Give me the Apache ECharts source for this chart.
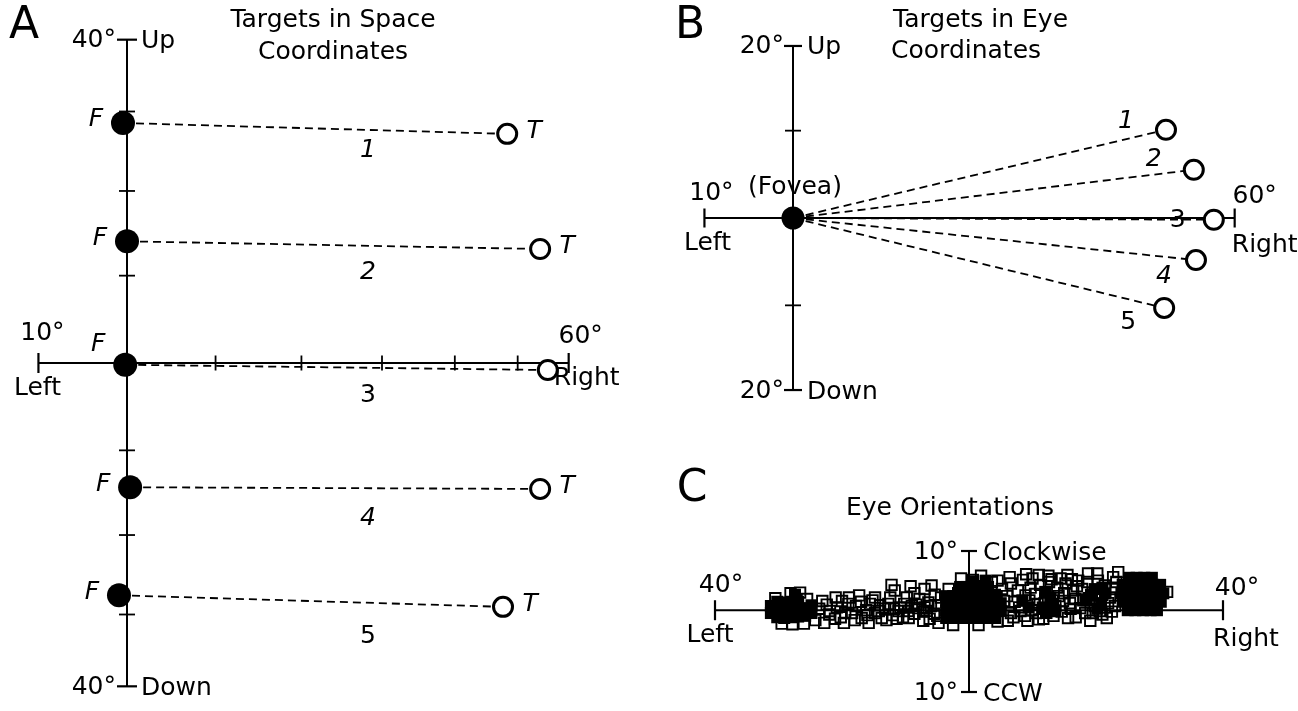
<!DOCTYPE html>
<html>
<head>
<meta charset="utf-8">
<script src="https://cdn.jsdelivr.net/npm/echarts@6/dist/echarts.min.js"></script>
<style>
  html, body { margin: 0; padding: 0; background: #fff; }
  #chart { width: 1298px; height: 711px; }
</style>
</head>
<body>
<div id="chart"></div>
<script>
// ---------- Panel A: targets in space coordinates (degrees: horizontal, vertical) ----------
const targetIds   = ['1', '2', '3', '4', '5'];
const idItalic    = [true, true, false, true, false];
const spaceFixH   = [-0.45, 0.0, -0.2, 0.35, -0.9];
const spaceFixV   = [28.5, 14.0, -0.2, -14.3, -27.5];
const spaceTgtH   = [48.2, 54.1, 55.6, 54.1, 47.5];
const spaceTgtV   = [27.1, 13.1, -0.8, -14.5, -29.0];
const spaceHRange = [-10, 60];          // Left .. Right
const spaceVRange = [-40, 40];          // Down .. Up
const spaceHTicks = [10, 20, 30, 40, 50];
const spaceVTicks = [-30, -20, -10, 10, 20, 30];

// ---------- Panel B: the same targets relative to the fovea ----------
const foveaPos    = [0, 0];
const eyeTgtH     = [47.0, 51.8, 55.6, 52.2, 46.7];
const eyeTgtV     = [10.1, 5.5, -0.2, -4.8, -10.3];
const eyeHRange   = [-10, 60];
const eyeVRange   = [-20, 20];
const eyeVTicks   = [-10, 10];

// ---------- Panel C: eye orientations (horizontal deg, torsion deg) ----------
const orientHRange = [-40, 40];         // Left .. Right
const orientTRange = [-10, 10];         // CCW .. Clockwise
const orientLevel  = 1.6;               // torsion level of the horizontal reference line
// sparse samples (outlined squares)
const orientSparse = [
  [-28.1,4.0],[-26.6,4.1],[-23.1,2.9],[-22.8,-0.2],[-20,2.9],[-19.7,-0.2],[-17.3,3.7],[-16.9,0.5],
  [-15.8,-0.2],[-14.8,3.4],[-14.2,1.5],[-13.75,0.5],[-12.7,2.5],[-11.7,4.4],[-11.4,0.4],[-10.2,2.5],
  [-9.5,0.5],[-8.6,4.0],[-8.0,1.9],[-7.2,0.1],[-6.4,2.7],[-5.9,5.1],[-5.5,1.1],[-4.4,3.4],
  [-21.9,1.5],[-18.4,1.2],[-21.1,0.4],[-23.6,1.8],[-18.9,3.4],[-15.6,2.5],[-8.6,1.1],[-11.1,1.5],
  [-6.7,1.5],[-4.8,-0.2],[-22,1],[-20.8,2],[-19.5,1.2],[-17.8,2.2],[-16.2,1.6],[-14.8,1.2],
  [-13.2,1.8],[-12,0.9],[-10.8,2],[-9.6,1.5],[-8.3,2.4],[-7.2,1.4],[-6,2.2],[-5,0.8],
  [-22.4,2.4],[-21,3.4],[-20.2,0.6],[-19,2.5],[-18,0.2],[-17,2.8],[-16,0.9],[-15.2,3],
  [-14,2.3],[-13,0.2],[-12.4,3.4],[-11.8,1.8],[-10.4,0.6],[-9.8,3.4],[-9,2.2],[-7.8,3.2],
  [-7,2],[-6.2,0.4],[-5.4,3.8],[-4.9,2.3],[-12.2,5.2],[-9.2,5.0],[-7.0,4.6],
  [-30.5,3.3],[-29.5,-0.3],[-27.8,-0.4],[-25.5,3.2],[-24.2,0.2],[-26,-0.3],
  [-1.25,6.1],[1.9,6.5],[-1.7,4.0],[-3.2,4.6],[0.6,5.9],[3.6,5.6],[4.5,0.0],[-2.5,-0.5],[1.5,-0.5],
  [4.5,5.8],[5.5,2.9],[6.1,0.1],[7.7,4.4],[8.1,1.5],[9.2,0.1],[9.7,4.8],[10.8,2.5],[11.7,0.4],
  [12.5,6.5],[13.3,0.8],[13.9,4.8],[14.8,2.9],[15.6,0.5],[16.4,4.4],[17.5,1.9],[18.75,6.8],
  [19.1,0.1],[19.8,4.0],[20.6,1.5],[21.7,0.5],[22.7,6.3],[22.2,3.4],
  [6.6,5.4],[8.9,3.7],[10.5,1.2],[12,3.2],[13.6,2.2],[15.2,5.4],[16.7,3.2],[18.3,1.2],
  [19.8,2.2],[21.4,5.1],[23,2.2],[6.6,1.2],[10,6.1],[14.4,6.1],[17.2,5.8],[20.3,5.8],
  [7.2,2.8],[9.5,3.0],[11.2,5.2],[12.9,1.5],[14.1,3.6],[16,1.8],[17.8,4.6],[18.9,3.3],
  [21,3.8],[22.5,1.4],[8.5,5.9],[15.5,6.6],[20.2,6.8],[31.2,4.2],[23.5,7.0],
  [5.2,4.6],[6.0,3.6],[7.0,0.6],[7.9,2.0],[8.8,0.8],[9.9,1.6],[10.4,3.9],[11.0,0.3],
  [11.9,2.6],[12.6,5.6],[13.2,3.0],[14.6,1.4],[15.0,4.0],[15.9,2.6],[16.8,0.6],[17.0,5.0],
  [18.0,3.0],[18.6,5.6],[19.5,1.2],[20.0,3.2],[21.0,1.0],[21.9,2.6],[22.6,4.6],[23.2,5.6],
  [16.2,6.0],[13.0,6.0],[11.0,6.6],[9.0,6.7],[6.4,6.3]
];
// densely overlapping samples (squares merge into solid ink)
const orientDense = [
  [-31.2,1.2],[-31.2,2.2],[-30.2,0.6],[-30.2,1.7],[-30.2,2.8],[-29.1,0.5],[-29.1,1.6],[-29.1,2.7],
  [-28,0.6],[-28,1.7],[-28,2.8],[-26.9,0.7],[-26.9,1.8],[-26.9,2.8],[-25.8,0.8],[-25.8,1.9],
  [-24.8,1.2],[-24.8,2.3],[-27.4,3.8],
  [-3.6,0.5],[-3.6,1.6],[-3.6,2.7],[-3.6,3.6],[-2.5,0.5],[-2.5,1.6],[-2.5,2.7],[-2.5,3.6],
  [-1.4,0.5],[-1.4,1.6],[-1.4,2.7],[-1.4,3.8],[-1.4,4.9],
  [-0.3,0.5],[-0.3,1.6],[-0.3,2.7],[-0.3,3.8],[-0.3,4.9],
  [0.8,0.5],[0.8,1.6],[0.8,2.7],[0.8,3.8],[0.8,4.9],[0.5,5.7],
  [1.9,0.5],[1.9,1.6],[1.9,2.7],[1.9,3.8],[1.9,4.9],[2.6,5.8],
  [3.0,0.5],[3.0,1.6],[3.0,2.7],[3.0,3.8],[3.0,4.9],
  [4.1,0.5],[4.1,1.6],[4.1,2.7],[4.1,3.8],[5.0,1.5],[5.0,2.6],
  [11.6,2],[12.8,3.4],[13.6,1.6],[12,4.2],[18.5,3],[19.8,4.6],[20.8,2.6],[21.5,4],[8.4,3],[9.4,2],
  [13,2.5],[12.2,1.2],[19.2,3.8],[20.2,1.8],[21,4.8],
  [25,1.6],[26.2,1.6],[27.4,1.6],[28.6,1.6],[29.6,1.6],
  [24.2,2.8],[25.4,2.8],[26.6,2.8],[27.8,2.8],[29,2.8],[30.2,2.8],
  [24,4.0],[25.2,4.0],[26.4,4.0],[27.6,4.0],[28.8,4.0],[30,4.0],[30.6,4.0],
  [24.2,5.2],[25.4,5.2],[26.6,5.2],[27.8,5.2],[29,5.2],[30.1,5.2],
  [25.2,6.2],[26.4,6.2],[27.6,6.2],[28.8,6.2]
];

// ---------- drawing ----------
const FONT = '"DejaVu Sans", sans-serif';
const INK = '#000';
const RAD = Math.PI / 180;
// directions are drawn in orthographic projection (sine of the angle)
const sp = d => Math.sin(d * RAD);

const chart = echarts.init(document.getElementById('chart'));

const series = [];
function segment(gi, a, b, dashed, width) {
  series.push({
    type: 'line', xAxisIndex: gi, yAxisIndex: gi, data: [a, b],
    symbol: 'none', silent: true, z: dashed ? 2 : 1, clip: false,
    lineStyle: { color: INK, opacity: 1, width: width || 2, type: dashed ? [8, 5] : 'solid' }
  });
}
function ticks(gi, pts, size) {
  series.push({
    type: 'scatter', xAxisIndex: gi, yAxisIndex: gi, data: pts, clip: false,
    symbol: 'rect', symbolSize: size, silent: true, z: 1,
    itemStyle: { color: INK, opacity: 1 }
  });
}
function dots(gi, pts, size, hollow) {
  series.push({
    type: 'scatter', xAxisIndex: gi, yAxisIndex: gi, data: pts, clip: false,
    symbol: 'circle', symbolSize: size, silent: true, z: 4,
    itemStyle: hollow
      ? { color: '#fff', borderColor: INK, borderWidth: 3, opacity: 1 }
      : { color: INK, opacity: 1 }
  });
}

// Panel A axes
segment(0, [0, sp(spaceVRange[1])], [0, sp(spaceVRange[0])]);
segment(0, [sp(spaceHRange[0]), 0], [sp(spaceHRange[1]), 0]);
ticks(0, spaceHTicks.map(d => [sp(d), 0]), [1.8, 15]);
ticks(0, spaceVTicks.map(d => [0, sp(d)]), [16, 1.8]);
ticks(0, spaceVRange.map(d => [0, sp(d)]), [20, 2.2]);
ticks(0, spaceHRange.map(d => [sp(d), 0]), [2.2, 20]);
const spaceFix = spaceFixH.map((h, i) => [sp(h), sp(spaceFixV[i])]);
const spaceTgt = spaceTgtH.map((h, i) => [sp(h), sp(spaceTgtV[i])]);
spaceFix.forEach((f, i) => segment(0, f, spaceTgt[i], true, 1.8));
dots(0, spaceFix, 24, false);
dots(0, spaceTgt, 19, true);

// Panel B axes
segment(1, [0, sp(eyeVRange[1])], [0, sp(eyeVRange[0])]);
segment(1, [sp(eyeHRange[0]), 0], [sp(eyeHRange[1]), 0]);
ticks(1, eyeVTicks.map(d => [0, sp(d)]), [16, 1.8]);
ticks(1, eyeVRange.map(d => [0, sp(d)]), [18, 2.2]);
ticks(1, eyeHRange.map(d => [sp(d), 0]), [2.2, 19]);
const eyeTgt = eyeTgtH.map((h, i) => [sp(h), sp(eyeTgtV[i])]);
eyeTgt.forEach(t => segment(1, foveaPos, t, true, 1.8));
dots(1, [foveaPos], 23, false);
dots(1, eyeTgt, 19, true);

// Panel C axes and samples
segment(2, [0, orientTRange[1]], [0, orientTRange[0]]);
segment(2, [orientHRange[0], orientLevel], [orientHRange[1], orientLevel]);
ticks(2, orientTRange.map(t => [0, t]), [16, 2.2]);
ticks(2, orientHRange.map(h => [h, orientLevel]), [2.2, 20]);
series.push({
  type: 'scatter', xAxisIndex: 2, yAxisIndex: 2, data: orientSparse, clip: false,
  symbol: 'rect', symbolSize: 10.5, silent: true, z: 3,
  itemStyle: { color: 'rgba(0,0,0,0)', borderColor: INK, borderWidth: 1.9, opacity: 1 }
});
series.push({
  type: 'scatter', xAxisIndex: 2, yAxisIndex: 2, data: orientDense, clip: false,
  symbol: 'rect', symbolSize: 12, silent: true, z: 3,
  itemStyle: { color: INK, opacity: 1 }
});

const RX = 510, RY = 503;        // projection radius in pixels
const CX = 6.35, CY = 7.05;      // panel C pixels per degree
const hidden = { show: false };
chart.setOption({
  animation: false,
  backgroundColor: '#fff',
  grid: [
    { left: 127 - 0.2 * RX, width: 1.1 * RX, top: 363 - 0.68 * RY, height: 1.36 * RY },
    { left: 793 - 0.2 * RX, width: 1.1 * RX, top: 218 - 0.4 * RY, height: 0.8 * RY },
    { left: 969 - 45 * CX, width: 90 * CX, top: 621.5 - 12 * CY, height: 24 * CY }
  ],
  xAxis: [
    { type: 'value', gridIndex: 0, min: -0.2, max: 0.9, ...hidden },
    { type: 'value', gridIndex: 1, min: -0.2, max: 0.9, ...hidden },
    { type: 'value', gridIndex: 2, min: -45, max: 45, ...hidden }
  ],
  yAxis: [
    { type: 'value', gridIndex: 0, min: -0.68, max: 0.68, ...hidden },
    { type: 'value', gridIndex: 1, min: -0.4, max: 0.4, ...hidden },
    { type: 'value', gridIndex: 2, min: -12, max: 12, ...hidden }
  ],
  series
});

// ---------- text ----------
const px = (gi, p) => chart.convertToPixel({ gridIndex: gi }, p);
function txt(x, y, text, o) {
  o = o || {};
  return {
    type: 'text', x, y, silent: true, z: 10,
    style: {
      text, fill: INK, fontFamily: FONT, fontSize: o.size || 25,
      fontStyle: o.italic ? 'italic' : 'normal', fontWeight: 'normal',
      align: o.align || 'center', verticalAlign: 'middle'
    }
  };
}
const g = [];
// panel letters and titles
g.push(txt(24, 27, 'A', { size: 44 }));
g.push(txt(690, 27, 'B', { size: 44 }));
g.push(txt(692, 490, 'C', { size: 44 }));
g.push(txt(333, 20, 'Targets in Space'));
g.push(txt(333, 52, 'Coordinates'));
g.push(txt(893, 20, 'Targets in Eye', { align: 'left' }));
g.push(txt(891, 51, 'Coordinates', { align: 'left' }));
g.push(txt(950, 508, 'Eye Orientations'));

// Panel A axis labels
let p = px(0, [0, sp(spaceVRange[1])]);
g.push(txt(p[0] - 11, p[1] + 1, spaceVRange[1] + '°', { align: 'right' }));
g.push(txt(p[0] + 14, p[1] + 2, 'Up', { align: 'left' }));
p = px(0, [0, sp(spaceVRange[0])]);
g.push(txt(p[0] - 11, p[1] + 1, Math.abs(spaceVRange[0]) + '°', { align: 'right' }));
g.push(txt(p[0] + 14, p[1] + 2, 'Down', { align: 'left' }));
p = px(0, [sp(spaceHRange[0]), 0]);
g.push(txt(p[0] + 4, p[1] - 30, Math.abs(spaceHRange[0]) + '°'));
g.push(txt(p[0] - 1, p[1] + 25, 'Left'));
p = px(0, [sp(spaceHRange[1]), 0]);
g.push(txt(p[0] + 12, p[1] - 27, spaceHRange[1] + '°'));
g.push(txt(p[0] + 18, p[1] + 15, 'Right'));
// F / T markers and target numbers
const aNumY = [150, 272, 395, 518, 636];
spaceFix.forEach((f, i) => {
  const q = px(0, f);
  const up = i === 2 ? 20 : 3;
  g.push(txt(q[0] - 27, q[1] - up, 'F', { italic: true }));
});
spaceTgt.forEach((t, i) => {
  if (i === 2) return;
  const q = px(0, t);
  g.push(txt(q[0] + 27, q[1] - 2, 'T', { italic: true }));
});
targetIds.forEach((id, i) => g.push(txt(368, aNumY[i], id, { italic: idItalic[i] })));

// Panel B axis labels
p = px(1, [0, sp(eyeVRange[1])]);
g.push(txt(p[0] - 9, p[1] + 1, eyeVRange[1] + '°', { align: 'right' }));
g.push(txt(p[0] + 14, p[1] + 2, 'Up', { align: 'left' }));
p = px(1, [0, sp(eyeVRange[0])]);
g.push(txt(p[0] - 9, p[1] + 1, Math.abs(eyeVRange[0]) + '°', { align: 'right' }));
g.push(txt(p[0] + 14, p[1] + 2, 'Down', { align: 'left' }));
p = px(1, [sp(eyeHRange[0]), 0]);
g.push(txt(p[0] + 7, p[1] - 25, Math.abs(eyeHRange[0]) + '°'));
g.push(txt(p[0] + 3, p[1] + 25, 'Left'));
p = px(1, [sp(eyeHRange[1]), 0]);
g.push(txt(p[0] + 20, p[1] - 22, eyeHRange[1] + '°'));
g.push(txt(p[0] + 30, p[1] + 27, 'Right'));
p = px(1, foveaPos);
g.push(txt(p[0] + 2, p[1] - 31, '(Fovea)'));
const bNumOff = [[-40, -8], [-40, -10], [-36, 1], [-32, 16], [-36, 15]];
eyeTgt.forEach((t, i) => {
  const q = px(1, t);
  g.push(txt(q[0] + bNumOff[i][0], q[1] + bNumOff[i][1], targetIds[i], { italic: idItalic[i] }));
});

// Panel C axis labels
p = px(2, [0, orientTRange[1]]);
g.push(txt(p[0] - 11, p[1] + 1, orientTRange[1] + '°', { align: 'right' }));
g.push(txt(p[0] + 14, p[1] + 2, 'Clockwise', { align: 'left' }));
p = px(2, [0, orientTRange[0]]);
g.push(txt(p[0] - 11, p[1] + 1, Math.abs(orientTRange[0]) + '°', { align: 'right' }));
g.push(txt(p[0] + 14, p[1] + 2, 'CCW', { align: 'left' }));
p = px(2, [orientHRange[0], orientLevel]);
g.push(txt(p[0] + 6, p[1] - 25, Math.abs(orientHRange[0]) + '°'));
g.push(txt(p[0] - 5, p[1] + 25, 'Left'));
p = px(2, [orientHRange[1], orientLevel]);
g.push(txt(p[0] + 14, p[1] - 22, orientHRange[1] + '°'));
g.push(txt(p[0] + 23, p[1] + 29, 'Right'));

chart.setOption({ graphic: g });
</script>
</body>
</html>
